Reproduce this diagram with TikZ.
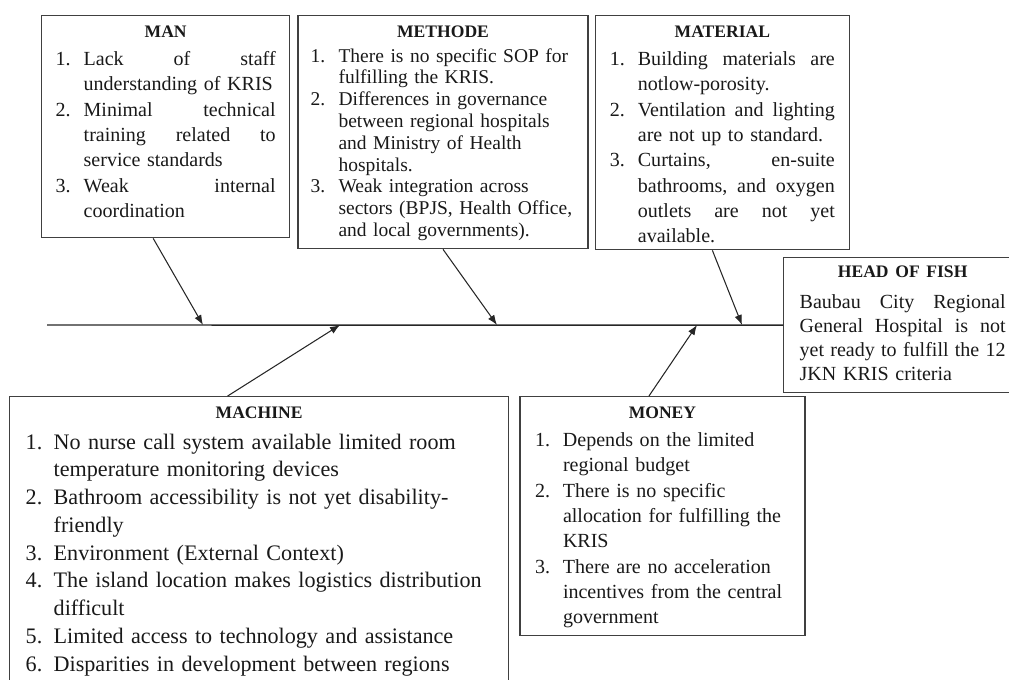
\documentclass[tikz,border=0pt]{standalone}
\usepackage{fontspec}
\setmainfont{Liberation Serif}
\usetikzlibrary{arrows.meta,positioning}
\newlength{\fishindent}
\setlength{\fishindent}{0.56cm}
\newcommand{\fishtitle}[1]{\makebox[\linewidth]{\fontsize{10pt}{12pt}\selectfont\bfseries #1}\par\vspace{1.5pt}}
\newcommand{\fishitem}[1]{\par\noindent\hangindent=\fishindent\hangafter=1\makebox[\fishindent][l]{#1}}
\newcommand{\fishgap}{\hskip 0.25em plus 1fill\relax}
\tikzset{
    fishbox/.style={
           rectangle,
           draw=black!75, line width=0.8pt,
           anchor=north west,
           inner xsep=0.3cm,
           inner ysep=0pt,
           text height=0.44cm,
           align=left,
           text=black!90,
           font=\fontsize{11.4pt}{14.4pt}\selectfont,
           },
    bone/.style={
           ->,
           line width=0.6pt,
           draw=black!85,},
    spine/.style={
           line width=0.8pt,
           draw=black!85,}
}
\begin{document}
\begin{tikzpicture}[x=0.02cm, y=-0.02cm, >={Latex[length=0.2cm,width=0.15cm]}]
\useasboundingbox (0,0) rectangle (1009,680);
\clip (0,0) rectangle (1009,680);
% CAUSES ABOVE THE SPINE
% Position of Man (MAN)
\node[fishbox,
text width = 4.4cm,
inner xsep = 0.28cm,
text depth = 4.0cm] (MAN) at (41,15)
{\fishtitle{MAN}
\fishitem{1.}Lack\fishgap of\fishgap staff\newline understanding of KRIS
\fishitem{2.}Minimal\fishgap technical\newline training\fishgap related\fishgap to\newline service standards
\fishitem{3.}Weak\fishgap internal\newline coordination\par
};
% Position of Methode (METHODE)
\node[fishbox,
right = 0.14cm of MAN.north east,
anchor = north west,
text width = 5.3cm,
inner xsep = 0.25cm,
text depth = 4.22cm,
font = \fontsize{11.1pt}{12.4pt}\selectfont] (METHODE)
{\hyphenpenalty=10000 \fishtitle{METHODE}
\fishitem{1.}There is no specific SOP~for\newline fulfilling the KRIS.
\fishitem{2.}Differences in governance\newline between regional hospitals\newline and Ministry of Health\newline hospitals.
\fishitem{3.}Weak integration across\newline sectors (BPJS, Health~Office,\newline and local governments).\par
};
% Position of Material (MATERIAL)
\node[fishbox,
right = 0.12cm of METHODE.north east,
anchor = north west,
text width = 4.5cm,
inner xsep = 0.29cm,
text depth = 4.24cm] (MATERIAL)
{\fishtitle{MATERIAL}
\fishitem{1.}Building\fishgap materials\fishgap are\newline notlow-porosity.
\fishitem{2.}Ventilation\fishgap and\fishgap lighting\newline are not up to standard.
\fishitem{3.}Curtains,\fishgap en-suite\newline bathrooms,\fishgap and\fishgap oxygen\newline outlets\fishgap are\fishgap not\fishgap yet\newline available.\par
};
% Position of the effect (HEAD)
\node[fishbox,
text width = 4.12cm,
inner xsep = 0.32cm,
text height = 0.4cm,
text depth = 2.3cm,
font = \fontsize{11.4pt}{13.8pt}\selectfont] (HEAD) at (783,257)
{\fishtitle{HEAD OF FISH}\vspace{2pt}
\noindent Baubau\fishgap City\fishgap Regional\newline General\fishgap Hospital\fishgap is\fishgap not\newline yet\fishgap ready\fishgap to\fishgap fulfill\fishgap the\fishgap 12\newline JKN KRIS criteria\par
};
% CAUSES BELOW THE SPINE
% Position of Machine (MACHINE)
\node[fishbox,
text width = 9.34cm,
inner xsep = 0.32cm,
text depth = 6.2cm,
font = \fontsize{12.6pt}{15.8pt}\selectfont] (MACHINE) at (9,396)
{\fishtitle{MACHINE}
\fishitem{1.}No nurse call system available limited room\newline temperature monitoring devices
\fishitem{2.}Bathroom accessibility is not yet disability-\newline friendly
\fishitem{3.}Environment (External Context)
\fishitem{4.}The island location makes logistics distribution\newline difficult
\fishitem{5.}Limited access to technology and assistance
\fishitem{6.}Disparities in development between regions\par
};
% Position of Money (MONEY)
\node[fishbox,
right = 0.2cm of MACHINE.north east,
anchor = north west,
text width = 5.1cm,
text depth = 4.34cm] (MONEY)
{\fishtitle{MONEY}
\fishitem{1.}Depends on the limited\newline regional budget
\fishitem{2.}There is no specific\newline allocation for fulfilling the\newline KRIS
\fishitem{3.}There are no acceleration\newline incentives from the central\newline government\par
};
% Points on the spine
\coordinate (TAIL) at (47,325);
\coordinate (MANhit) at (203,325);
\coordinate (METHODEhit) at (497,325);
\coordinate (MATERIALhit) at (742,325);
\coordinate (MACHINEhit) at (340,325);
\coordinate (MONEYhit) at (697,325);
% Draw lines on graph
\draw[spine] (TAIL) -- (HEAD.west);
\draw[bone] ([xshift=-0.25cm]MAN.south) -- (MANhit);
\draw[bone] (METHODE.south) -- (METHODEhit);
\draw[bone] ([xshift=-0.2cm]MATERIAL.south) -- (MATERIALhit);
\draw[bone] ([xshift=-0.63cm]MACHINE.north) -- (MACHINEhit);
\draw[bone] ([xshift=-0.27cm]MONEY.north) -- (MONEYhit);
\end{tikzpicture}
\end{document}
